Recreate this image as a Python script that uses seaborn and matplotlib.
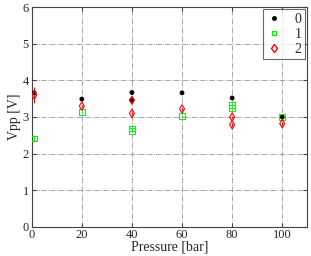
import pandas as pd
import matplotlib
matplotlib.use('Agg')
import matplotlib.pyplot as plt
import seaborn as sns
from matplotlib.lines import Line2D

# pressure [bar] and peak-to-peak voltage [V] per series
p0 = [1, 20, 40, 40, 60, 80, 100]
v0 = [3.66, 3.49, 3.67, 3.46, 3.66, 3.52, 3.00]
e0 = [0.05, 0.03, 0.03, 0.03, 0.03, 0.03, 0.03]

p1 = [1, 20, 40, 40, 60, 80, 80, 100]
v1 = [2.41, 3.14, 2.62, 2.69, 3.03, 3.25, 3.33, 3.00]
e1 = [0.10, 0.03, 0.04, 0.04, 0.03, 0.04, 0.04, 0.03]

p2 = [1, 20, 40, 40, 60, 80, 80, 100]
v2 = [3.60, 3.30, 3.46, 3.10, 3.22, 3.00, 2.79, 2.82]
e2 = [0.22, 0.04, 0.04, 0.04, 0.03, 0.04, 0.04, 0.04]

labels = ['0', '1', '2']

df = pd.concat([
    pd.DataFrame({'p': p0, 'v': v0, 'e': e0, 's': labels[0]}),
    pd.DataFrame({'p': p1, 'v': v1, 'e': e1, 's': labels[1]}),
    pd.DataFrame({'p': p2, 'v': v2, 'e': e2, 's': labels[2]}),
])

sns.set_style('ticks')
plt.rcParams['font.family'] = ['Liberation Serif', 'DejaVu Serif']

colors = {'0': 'black', '1': '#11ee11', '2': 'red'}

fig = plt.figure(figsize=(3.11, 2.56), dpi=100)
ax = fig.add_axes([0.102, 0.1145, 0.886, 0.857])

for s, g in df.groupby('s'):
    ax.errorbar(g['p'], g['v'], yerr=g['e'], fmt='none', ecolor=colors[s],
                elinewidth=0.8, capsize=0, zorder=2)

sns.scatterplot(data=df, x='p', y='v', hue='s', style='s',
                markers={'0': 'o', '1': 's', '2': 'd'},
                size='s', sizes={'0': 7, '1': 16, '2': 18},
                palette=colors, ax=ax, zorder=3, linewidth=0.8,
                legend=False)
# black dots filled, green and red open
fc = [colors[s] if s == '0' else 'none' for s in df['s']]
ax.collections[-1].set_facecolor(fc)
ax.collections[-1].set_edgecolor([colors[s] for s in df['s']])

ax.set_xlim(0, 110)
ax.set_ylim(0, 6)
ax.set_xticks([0, 20, 40, 60, 80, 100])
ax.set_yticks([0, 1, 2, 3, 4, 5, 6])
ax.set_xlabel('Pressure [bar]', fontsize=10, labelpad=-1)
ax.set_ylabel('Vpp [V]', fontsize=10, labelpad=1)
ax.tick_params(direction='in', length=3, labelsize=9, top=True, right=True,
               pad=2, color='#444444')
ax.grid(True, color='#999999', linestyle='-.', linewidth=0.6)
for sp in ax.spines.values():
    sp.set_color('#444444')
    sp.set_linewidth(0.8)

handles = [Line2D([], [], linestyle='none', marker='o', color='black', markersize=2.5),
           Line2D([], [], linestyle='none', marker='s', markerfacecolor='none',
                  markeredgecolor=colors['1'], markersize=3.5),
           Line2D([], [], linestyle='none', marker='d', markerfacecolor='none',
                  markeredgecolor='red', markersize=4.5)]
leg = ax.legend(handles, labels, loc='upper right', fontsize=10, frameon=True,
                fancybox=False, handlelength=1.0, handletextpad=1.0,
                borderpad=0.25, labelspacing=0.15, borderaxespad=0.15)
leg.get_frame().set_edgecolor('#444444')
leg.get_frame().set_linewidth(0.8)

fig.savefig('out.png', dpi=100)
